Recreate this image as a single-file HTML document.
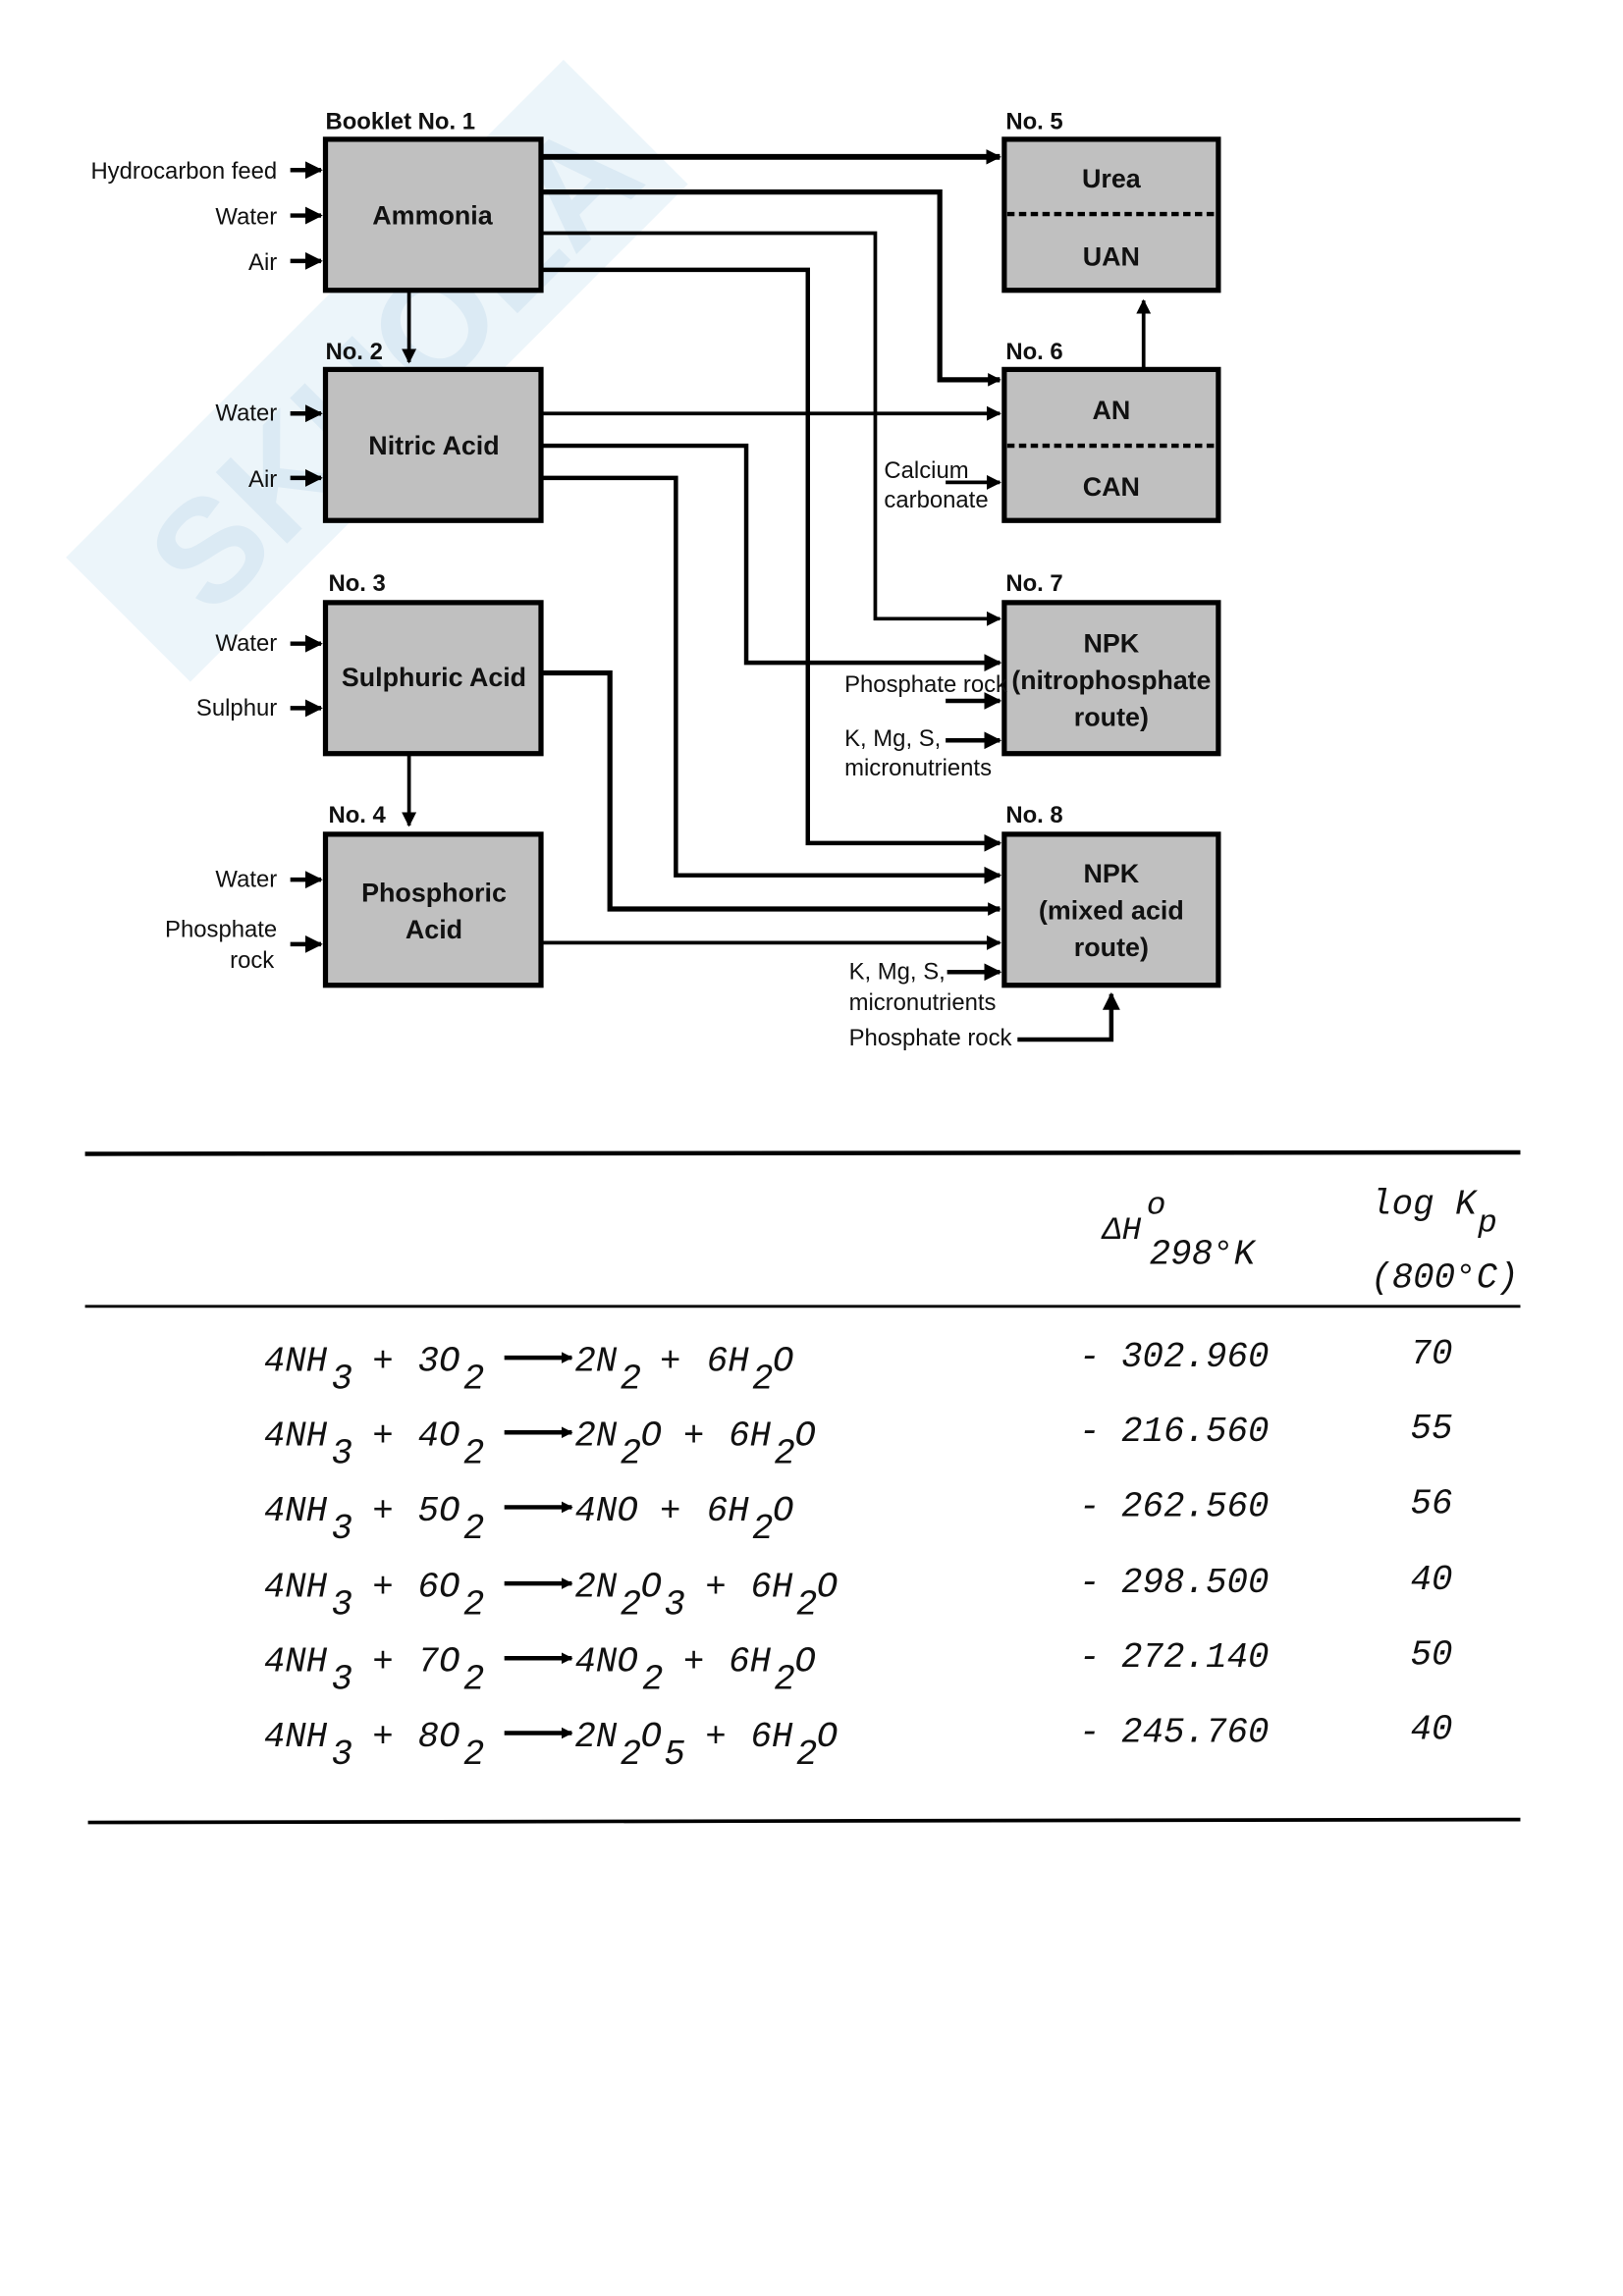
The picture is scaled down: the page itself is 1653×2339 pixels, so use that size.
<!DOCTYPE html>
<html><head><meta charset="utf-8"><style>
html,body{margin:0;padding:0;background:#fff}
svg{display:block}
.s{font-family:"Liberation Sans",Arial,sans-serif;fill:#111}
.m{font-family:"Liberation Mono",monospace;font-style:italic;font-size:24px;fill:#111}
.ms{font-family:"Liberation Mono",monospace;font-style:italic;font-size:22px;fill:#111}
</style></head><body>
<svg width="1653" height="2339" viewBox="0 0 1107 1566" preserveAspectRatio="none" xmlns="http://www.w3.org/2000/svg">
<defs>
<marker id="a" viewBox="0 0 10 10" refX="9" refY="5" markerWidth="4" markerHeight="4" orient="auto" markerUnits="strokeWidth"><path d="M0,0 L10,5 L0,10 z" fill="#000"/></marker>
<marker id="b" viewBox="0 0 10 10" refX="9" refY="5" markerWidth="2.6" markerHeight="2.6" orient="auto" markerUnits="strokeWidth"><path d="M0,0 L10,5 L0,10 z" fill="#000"/></marker>
</defs>
<g opacity="0.18" transform="rotate(-45 250 260)">
<rect x="20" y="200" width="480" height="120" fill="#9cc9e6"/>
<text x="60" y="300" font-family="Liberation Sans" font-weight="bold" font-size="100" fill="#3b8fc4">SKUOLA</text>
</g>
<g fill="#c0c0c0" stroke="#000" stroke-width="3.5">
<rect x="222" y="95" width="147" height="103"/>
<rect x="222" y="252" width="147" height="103"/>
<rect x="222" y="411" width="147" height="103"/>
<rect x="222" y="569" width="147" height="103"/>
<rect x="685" y="95" width="146" height="103"/>
<rect x="685" y="252" width="146" height="103"/>
<rect x="685" y="411" width="146" height="103"/>
<rect x="685" y="569" width="146" height="103"/>
</g>
<g stroke="#000" stroke-width="3" stroke-dasharray="5,3">
<line x1="687" y1="146" x2="829" y2="146"/>
<line x1="687" y1="304" x2="829" y2="304"/>
</g>
<g fill="none" stroke="#000" stroke-linejoin="miter">
<path d="M369 107 H682" stroke-width="4" marker-end="url(#b)"/>
<path d="M369 131 H641 V259 H682" stroke-width="3.5" marker-end="url(#b)"/>
<path d="M369 159 H597 V422 H682" stroke-width="2.5" marker-end="url(#a)"/>
<path d="M369 184 H551 V575 H682" stroke-width="3" marker-end="url(#a)"/>
<path d="M369 282 H682" stroke-width="2.5" marker-end="url(#a)"/>
<path d="M369 304 H509 V452 H682" stroke-width="3" marker-end="url(#a)"/>
<path d="M369 326 H461 V597 H682" stroke-width="3" marker-end="url(#a)"/>
<path d="M369 459 H416 V620 H682" stroke-width="3.5" marker-end="url(#b)"/>
<path d="M369 643 H682" stroke-width="2.5" marker-end="url(#a)"/>
<path d="M780 252 V205" stroke-width="2.5" marker-end="url(#a)"/>
<path d="M279 198 V247" stroke-width="2.5" marker-end="url(#a)"/>
<path d="M279 514 V563" stroke-width="2.5" marker-end="url(#a)"/>
<path d="M645 329 H682" stroke-width="2.5" marker-end="url(#a)"/>
<path d="M645 478 H682" stroke-width="3" marker-end="url(#a)"/>
<path d="M645 505 H682" stroke-width="3" marker-end="url(#a)"/>
<path d="M646 663 H682" stroke-width="3" marker-end="url(#a)"/>
<path d="M694 709 H758 V678" stroke-width="3" marker-end="url(#a)"/>
<path d="M198 116 H219" stroke-width="3" marker-end="url(#a)"/>
<path d="M198 147 H219" stroke-width="3" marker-end="url(#a)"/>
<path d="M198 178 H219" stroke-width="3" marker-end="url(#a)"/>
<path d="M198 282 H219" stroke-width="3" marker-end="url(#a)"/>
<path d="M198 326 H219" stroke-width="3" marker-end="url(#a)"/>
<path d="M198 439 H219" stroke-width="3" marker-end="url(#a)"/>
<path d="M198 483 H219" stroke-width="3" marker-end="url(#a)"/>
<path d="M198 600 H219" stroke-width="3" marker-end="url(#a)"/>
<path d="M198 644 H219" stroke-width="3" marker-end="url(#a)"/>
</g>
<g class="s" font-size="16">
<text x="222" y="88" font-weight="bold">Booklet No. 1</text>
<text x="222" y="245" font-weight="bold">No. 2</text>
<text x="224" y="403" font-weight="bold">No. 3</text>
<text x="224" y="561" font-weight="bold">No. 4</text>
<text x="686" y="88" font-weight="bold">No. 5</text>
<text x="686" y="245" font-weight="bold">No. 6</text>
<text x="686" y="403" font-weight="bold">No. 7</text>
<text x="686" y="561" font-weight="bold">No. 8</text>
<g text-anchor="end">
<text x="189" y="122">Hydrocarbon feed</text>
<text x="189" y="153">Water</text>
<text x="189" y="184">Air</text>
<text x="189" y="287">Water</text>
<text x="189" y="332">Air</text>
<text x="189" y="444">Water</text>
<text x="189" y="488">Sulphur</text>
<text x="189" y="605">Water</text>
<text x="189" y="639">Phosphate</text>
<text x="187" y="660">rock</text>
</g>
<text x="603" y="326">Calcium</text>
<text x="603" y="346">carbonate</text>
<text x="576" y="472">Phosphate rock</text>
<text x="576" y="509">K, Mg, S,</text>
<text x="576" y="529">micronutrients</text>
<text x="579" y="668">K, Mg, S,</text>
<text x="579" y="689">micronutrients</text>
<text x="579" y="713">Phosphate rock</text>
</g>
<g class="s" font-size="18" font-weight="bold" text-anchor="middle">
<text x="295" y="153">Ammonia</text>
<text x="296" y="310">Nitric Acid</text>
<text x="296" y="468" textLength="126" lengthAdjust="spacingAndGlyphs">Sulphuric Acid</text>
<text x="296" y="615">Phosphoric</text>
<text x="296" y="640">Acid</text>
<text x="758" y="128">Urea</text>
<text x="758" y="181">UAN</text>
<text x="758" y="286">AN</text>
<text x="758" y="338">CAN</text>
<text x="758" y="445">NPK</text>
<text x="758" y="470" textLength="136" lengthAdjust="spacingAndGlyphs">(nitrophosphate</text>
<text x="758" y="495">route)</text>
<text x="758" y="602">NPK</text>
<text x="758" y="627">(mixed acid</text>
<text x="758" y="652">route)</text>
</g>
<line x1="58" y1="787" x2="1037" y2="786" stroke="#000" stroke-width="3"/>
<line x1="58" y1="891" x2="1037" y2="891" stroke="#000" stroke-width="2"/>
<line x1="60" y1="1243" x2="1037" y2="1241" stroke="#000" stroke-width="2.5"/>
<text class="ms" x="752" y="845" font-size="20">ΔH</text>
<text class="ms" x="782" y="828" font-size="18">o</text>
<text class="m" x="784" y="862">298°K</text>
<text class="m" x="935" y="828">log K</text>
<text class="ms" x="1008" y="840">p</text>
<text class="m" x="935" y="878" font-size="22">(800°C)</text>
<g class="m">
<text x="180" y="935">4NH</text><text x="180" y="986">4NH</text><text x="180" y="1037">4NH</text><text x="180" y="1089">4NH</text><text x="180" y="1140">4NH</text><text x="180" y="1191">4NH</text>
<text x="226" y="947">3</text><text x="226" y="998">3</text><text x="226" y="1049">3</text><text x="226" y="1101">3</text><text x="226" y="1152">3</text><text x="226" y="1203">3</text>
<text x="254" y="935">+</text><text x="254" y="986">+</text><text x="254" y="1037">+</text><text x="254" y="1089">+</text><text x="254" y="1140">+</text><text x="254" y="1191">+</text>
<text x="285" y="935">3O</text><text x="285" y="986">4O</text><text x="285" y="1037">5O</text><text x="285" y="1089">6O</text><text x="285" y="1140">7O</text><text x="285" y="1191">8O</text>
<text x="316" y="947">2</text><text x="316" y="998">2</text><text x="316" y="1049">2</text><text x="316" y="1101">2</text><text x="316" y="1152">2</text><text x="316" y="1203">2</text>
<text x="392" y="935">2N</text><text x="423" y="947">2</text><text x="450" y="935">+</text><text x="482" y="935">6H</text><text x="513" y="947">2</text><text x="527" y="935">O</text>
<text x="392" y="986">2N</text><text x="423" y="998">2</text><text x="437" y="986">O</text><text x="466" y="986">+</text><text x="497" y="986">6H</text><text x="528" y="998">2</text><text x="542" y="986">O</text>
<text x="392" y="1037">4NO</text><text x="450" y="1037">+</text><text x="482" y="1037">6H</text><text x="513" y="1049">2</text><text x="527" y="1037">O</text>
<text x="392" y="1089">2N</text><text x="423" y="1101">2</text><text x="437" y="1089">O</text><text x="453" y="1101">3</text><text x="481" y="1089">+</text><text x="512" y="1089">6H</text><text x="543" y="1101">2</text><text x="557" y="1089">O</text>
<text x="392" y="1140">4NO</text><text x="438" y="1152">2</text><text x="466" y="1140">+</text><text x="497" y="1140">6H</text><text x="528" y="1152">2</text><text x="542" y="1140">O</text>
<text x="392" y="1191">2N</text><text x="423" y="1203">2</text><text x="437" y="1191">O</text><text x="453" y="1203">5</text><text x="481" y="1191">+</text><text x="512" y="1191">6H</text><text x="543" y="1203">2</text><text x="557" y="1191">O</text>
<text x="736" y="932">- 302.960</text><text x="962" y="930">70</text>
<text x="736" y="983">- 216.560</text><text x="962" y="981">55</text>
<text x="736" y="1034">- 262.560</text><text x="962" y="1032">56</text>
<text x="736" y="1086">- 298.500</text><text x="962" y="1084">40</text>
<text x="736" y="1137">- 272.140</text><text x="962" y="1135">50</text>
<text x="736" y="1188">- 245.760</text><text x="962" y="1186">40</text>
</g>
<g stroke="#000" stroke-width="3" marker-end="url(#b)">
<line x1="344" y1="926" x2="390" y2="926"/>
<line x1="344" y1="977" x2="390" y2="977"/>
<line x1="344" y1="1028" x2="390" y2="1028"/>
<line x1="344" y1="1080" x2="390" y2="1080"/>
<line x1="344" y1="1131" x2="390" y2="1131"/>
<line x1="344" y1="1182" x2="390" y2="1182"/>
</g>
</svg>
</body></html>
